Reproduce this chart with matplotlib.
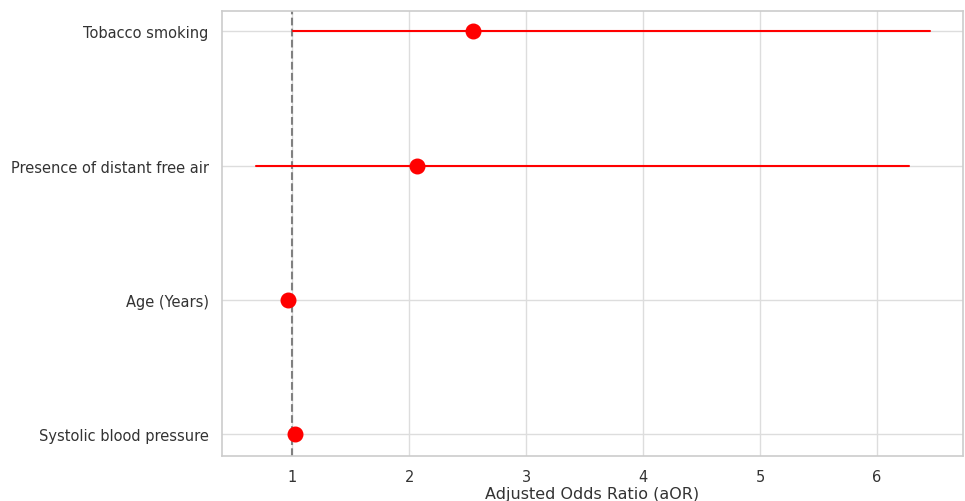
import matplotlib
matplotlib.use("Agg")
import matplotlib.pyplot as plt
import seaborn as sns

sns.set_theme(style="whitegrid")
plt.rcParams['font.family'] = ['DejaVu Sans']

labels = ["Tobacco smoking", "Presence of distant free air", "Age (Years)", "Systolic blood pressure"]
aor = [2.55, 2.07, 0.96, 1.02]
ci_low = [1.01, 0.69, 0.96, 1.02]
ci_high = [6.45, 6.27, 0.96, 1.02]

fig = plt.figure(figsize=(9.65, 5.02), dpi=100)
ax = fig.add_axes([222/965, 45/502, (963-222)/965, (457-12)/502])

ypos = list(range(len(labels)))
for y, lo, hi in zip(ypos, ci_low, ci_high):
    ax.plot([lo, hi], [y, y], color="red", lw=1.5, zorder=2)
ax.scatter(aor, ypos, color="red", s=110, zorder=3)
ax.axvline(1, color="gray", linestyle="--", lw=1.5, zorder=1)

ax.set_yticks(ypos)
ax.set_yticklabels(labels, fontsize=10.5, color="#333333")
ax.set_ylim(3.16, -0.15)
ax.set_xlim(0.40, 6.735)
ax.set_xticks([1, 2, 3, 4, 5, 6])
ax.tick_params(axis='x', labelsize=10.5, labelcolor="#333333")
ax.set_xlabel("Adjusted Odds Ratio (aOR)", fontsize=11.5, labelpad=1, color="#333333")
ax.grid(color="#dddddd")
for s in ax.spines.values():
    s.set_color("#cccccc")
    s.set_linewidth(1.2)

fig.savefig("out.png", dpi=100)
